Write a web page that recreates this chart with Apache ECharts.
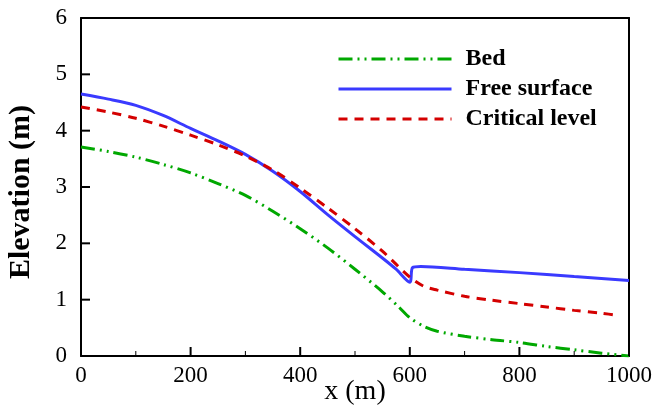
<!DOCTYPE html>
<html>
<head>
<meta charset="utf-8">
<script src="https://cdn.jsdelivr.net/npm/echarts@6/dist/echarts.min.js"></script>
<style>
html, body { margin: 0; padding: 0; background: #fff; }
#chart { width: 656px; height: 414px; }
</style>
</head>
<body>
<div id="chart"></div>
<script>
// values (x in m, elevation in m)
const bedX = [0, 50, 100, 150, 200, 250, 300, 350, 400, 450, 500, 550, 580, 600, 625, 650, 700, 750, 800, 850, 900, 950, 1000];
const bedY = [3.71, 3.63, 3.53, 3.40, 3.25, 3.06, 2.85, 2.57, 2.26, 1.92, 1.54, 1.14, 0.87, 0.68, 0.53, 0.44, 0.35, 0.29, 0.24, 0.17, 0.11, 0.05, 0.0];

const surfX = [0, 50, 100, 150, 200, 250, 300, 350, 400, 450, 500, 550, 575, 600, 605, 620, 700, 800, 900, 1000];
const surfY = [4.65, 4.56, 4.45, 4.27, 4.04, 3.82, 3.58, 3.28, 2.92, 2.51, 2.12, 1.74, 1.54, 1.31, 1.57, 1.59, 1.54, 1.48, 1.41, 1.34];

const critX = [0, 50, 100, 150, 200, 250, 300, 350, 400, 450, 500, 550, 600, 625, 650, 700, 750, 800, 850, 900, 950, 980];
const critY = [4.42, 4.33, 4.22, 4.08, 3.92, 3.75, 3.55, 3.30, 2.98, 2.63, 2.26, 1.86, 1.40, 1.24, 1.17, 1.06, 0.99, 0.93, 0.87, 0.81, 0.76, 0.72];

const xTicks = [0, 200, 400, 600, 800, 1000];
const xMinorTicks = [100, 300, 500, 700, 900];
const yTicks = [0, 1, 2, 3, 4, 5, 6];

const pairs = (xs, ys) => xs.map((x, i) => [x, ys[i]]);

const serif = 'Liberation Serif';

// top/right border of the box
const frameAxis = {
    axisLine: { show: true, onZero: false, lineStyle: { color: '#000', width: 2 } },
    axisTick: { show: false },
    axisLabel: { show: false },
    splitLine: { show: false }
};
// axis that only carries the tick labels
const labelAxis = {
    axisLine: { show: false },
    axisTick: { show: false },
    splitLine: { show: false }
};
// axis that only carries the title
const nameAxis = {
    axisLine: { show: false },
    axisTick: { show: false },
    axisLabel: { show: false },
    splitLine: { show: false },
    nameLocation: 'middle',
    nameMoveOverlap: false
};

// inward tick marks, placed through the axis scales
// data rows: [x, y, length, width, vertical?1:0]
const tickRows = []
    .concat(xTicks.map(v => [v, 0, 9, 2, 1]))
    .concat(xMinorTicks.map(v => [v, 0, 5, 1, 1]))
    .concat(yTicks.map(v => [0, v, 9, 2, 0]));

const renderTick = (params, api) => {
    const p = api.coord([api.value(0), api.value(1)]);
    const len = api.value(2);
    const vertical = api.value(4) === 1;
    return {
        type: 'line',
        shape: vertical
            ? { x1: p[0], y1: p[1], x2: p[0], y2: p[1] - len }
            : { x1: p[0], y1: p[1], x2: p[0] + len, y2: p[1] },
        style: { stroke: '#000', lineWidth: api.value(3) }
    };
};

const chart = echarts.init(document.getElementById('chart'));

const option = {
    animation: false,
    grid: {
        left: 81,
        right: 27,
        top: 18,
        bottom: 58,
        outerBoundsMode: 'none'
    },
    legend: {
        orient: 'vertical',
        left: 332,
        top: 42,
        itemWidth: 113,
        itemHeight: 14,
        itemGap: 6,
        data: ['Bed', 'Free surface', 'Critical level'],
        itemStyle: { opacity: 0 },
        lineStyle: { width: 3 },
        textStyle: {
            fontFamily: serif,
            fontWeight: 'bold',
            fontSize: 24,
            color: '#000',
            padding: [0, 0, 0, 9]
        }
    },
    xAxis: [{
        type: 'value',
        min: 0,
        max: 1000,
        interval: 200,
        axisLine: { show: true, lineStyle: { color: '#000', width: 2 } },
        axisTick: { show: false },
        axisLabel: { show: false },
        splitLine: { show: false }
    },
    Object.assign({ type: 'value', position: 'top', min: 0, max: 1000 }, frameAxis),
    Object.assign({
        type: 'value', position: 'bottom', min: 0, max: 1000, interval: 200,
        axisLabel: { fontFamily: serif, fontSize: 23, color: '#000', margin: 8, formatter: (v) => String(v) }
    }, labelAxis),
    Object.assign({
        type: 'value', position: 'bottom', min: 0, max: 1000,
        name: 'x (m)', nameGap: 22,
        nameTextStyle: { fontFamily: serif, fontSize: 28, color: '#000' }
    }, nameAxis)],
    yAxis: [{
        type: 'value',
        min: 0,
        max: 6,
        interval: 1,
        axisLine: { show: true, lineStyle: { color: '#000', width: 2 } },
        axisTick: { show: false },
        axisLabel: { show: false },
        splitLine: { show: false }
    },
    Object.assign({ type: 'value', position: 'right', min: 0, max: 6 }, frameAxis),
    Object.assign({
        type: 'value', position: 'left', min: 0, max: 6, interval: 1,
        axisLabel: { fontFamily: serif, fontSize: 23, color: '#000', margin: 14 }
    }, labelAxis),
    Object.assign({
        type: 'value', position: 'left', min: 0, max: 6,
        name: 'Elevation (m)', nameGap: 45,
        nameTextStyle: {
            fontFamily: serif, fontWeight: 'bold', fontSize: 30, color: '#000',
            padding: [0, 10, 0, 0]
        }
    }, nameAxis)],
    series: [
        {
            name: 'Bed',
            type: 'line',
            symbol: 'none',
            smooth: 0.3,
            data: pairs(bedX, bedY),
            lineStyle: { color: '#00a800', width: 3, type: [14, 5, 2, 5, 2, 5] },
            itemStyle: { color: '#00a800' }
        },
        {
            name: 'Free surface',
            type: 'line',
            symbol: 'none',
            smooth: 0.3,
            data: pairs(surfX, surfY),
            lineStyle: { color: '#3a3aff', width: 3 },
            itemStyle: { color: '#3a3aff' }
        },
        {
            name: 'Critical level',
            type: 'line',
            symbol: 'none',
            smooth: 0.3,
            data: pairs(critX, critY),
            lineStyle: { color: '#d40000', width: 3, type: [9, 7] },
            itemStyle: { color: '#d40000' }
        },
        {
            name: 'ticks',
            type: 'custom',
            silent: true,
            clip: false,
            z: 10,
            renderItem: renderTick,
            data: tickRows
        }
    ]
};

chart.setOption(option);
</script>
</body>
</html>
